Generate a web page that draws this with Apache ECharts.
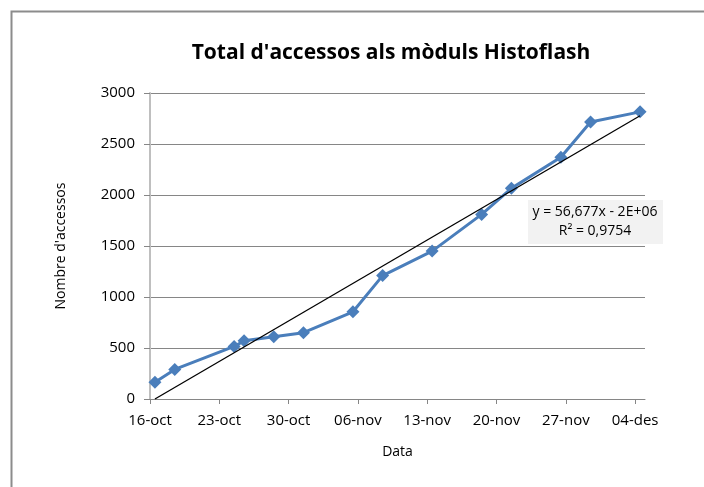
<!DOCTYPE html>
<html>
<head>
<meta charset="utf-8">
<script src="https://cdn.jsdelivr.net/npm/echarts@6.0.0/dist/echarts.min.js"></script>
<style>
	html, body { margin: 0; padding: 0; background: #fff; }
	#chart { width: 704px; height: 487px; }
</style>
</head>
<body>
<div id="chart"></div>
<script>
// dies comptats des del 16-oct
var days = [0, 2, 8, 9, 12, 15, 20, 23, 28, 33, 36, 41, 44, 49];
var accessos = [165, 290, 515, 570, 610, 650, 855, 1210, 1450, 1810, 2065, 2370, 2715, 2815];
// linia de tendencia (extrems llegits del grafic)
var trendDays = [0, 49];
var trendValues = [0, 2777];
var tickLabels = ['16-oct', '23-oct', '30-oct', '06-nov', '13-nov', '20-nov', '27-nov', '04-des'];

var font = '"Open Sans", "Liberation Sans", sans-serif';

var lineData = [];
for (var i = 0; i < days.length; i++) {
	lineData.push([days[i] + 0.5, accessos[i]]);
}
var trendData = [];
for (var j = 0; j < trendDays.length; j++) {
	trendData.push([trendDays[j] + 0.5, trendValues[j]]);
}

var option = {
	animation: false,
	backgroundColor: '#fff',
	title: {
		text: "Total d'accessos als mòduls Histoflash",
		left: 386,
		textAlign: 'center',
		top: 38,
		textStyle: {
			fontFamily: font,
			fontSize: 21,
			fontWeight: 'bold',
			color: '#000'
		}
	},
	grid: {
		left: 150,
		right: 59,
		top: 93,
		bottom: 88
	},
	xAxis: {
		type: 'value',
		min: 0,
		max: 50,
		interval: 7,
		name: 'Data',
		nameLocation: 'middle',
		nameGap: 46,
		nameTextStyle: {
			fontFamily: font,
			fontSize: 14,
			color: '#000'
		},
		axisLine: { lineStyle: { color: '#868686', width: 1 } },
		axisTick: { show: true, length: 5, lineStyle: { color: '#868686' } },
		splitLine: { show: false },
		axisLabel: {
			fontFamily: font,
			fontSize: 15,
			color: '#000',
			margin: 14,
			showMaxLabel: false,
			formatter: function(v) {
				if (v % 7 !== 0) return '';
				return tickLabels[v / 7] || '';
			}
		}
	},
	yAxis: {
		type: 'value',
		min: 0,
		max: 3000,
		interval: 500,
		name: "Nombre d'accessos",
		nameLocation: 'middle',
		nameGap: 82,
		nameTextStyle: {
			fontFamily: font,
			fontSize: 14,
			color: '#000'
		},
		axisLine: { show: true, lineStyle: { color: '#bfbfbf', width: 2 } },
		axisTick: { show: true, length: 6, lineStyle: { color: '#868686' } },
		splitLine: { show: true, lineStyle: { color: '#868686', width: 1 } },
		axisLabel: {
			fontFamily: font,
			fontSize: 15,
			color: '#000',
			margin: 15,
			formatter: function(v) { return String(v); }
		}
	},
	series: [{
		name: 'Accessos',
		type: 'line',
		data: lineData,
		symbol: 'diamond',
		symbolSize: 13,
		lineStyle: { color: '#4a7ebb', width: 3 },
		itemStyle: { color: '#4a7ebb' },
		z: 3
	}, {
		name: 'Tendencia',
		type: 'line',
		data: trendData,
		symbol: 'none',
		lineStyle: { color: '#000', width: 1.3 },
		z: 4
	}],
	graphic: [{
		type: 'rect',
		shape: { x: 11.5, y: 11.5, width: 720, height: 520 },
		style: { fill: 'none', stroke: '#8c8c8c', lineWidth: 2 },
		silent: true
	}, {
		type: 'rect',
		shape: { x: 528, y: 200, width: 135, height: 44 },
		style: { fill: '#f2f2f2' },
		z: 10
	}, {
		type: 'text',
		x: 595,
		y: 222,
		z: 11,
		style: {
			text: 'y = 56,677x - 2E+06\nR² = 0,9754',
			fill: '#000',
			fontFamily: font,
			fontSize: 14,
			lineHeight: 19,
			align: 'center',
			verticalAlign: 'middle'
		}
	}]
};

var chart = echarts.init(document.getElementById('chart'));
chart.setOption(option);
</script>
</body>
</html>
